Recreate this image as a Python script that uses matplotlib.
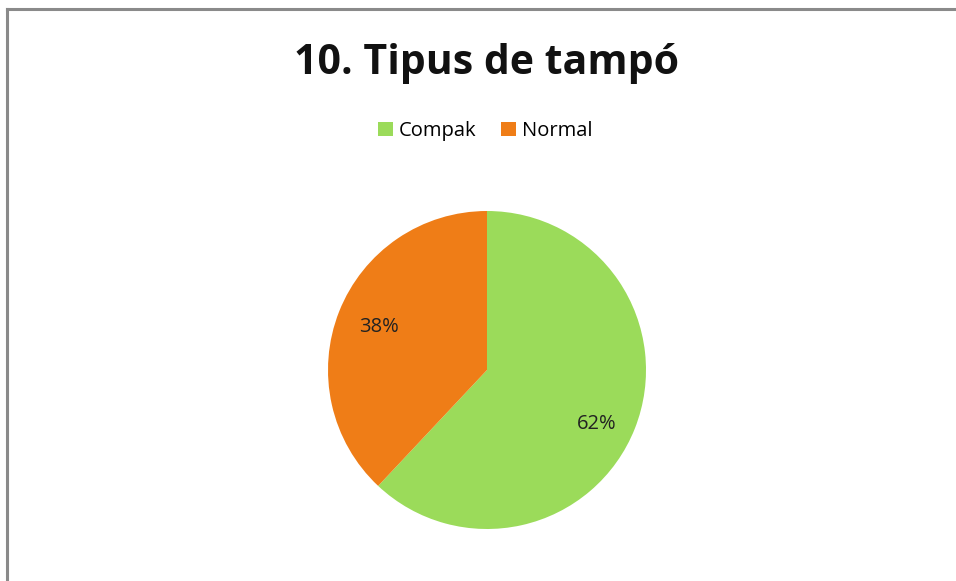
import matplotlib
matplotlib.use('Agg')
import matplotlib.pyplot as plt
from matplotlib.lines import Line2D
from matplotlib.patches import Patch

labels = ['Compak', 'Normal']
values = [62, 38]
colors = ['#9BDB5A', '#EF7D17']

W, H = 956, 581
fig = plt.figure(figsize=(W / 100, H / 100), dpi=100)
plt.rcParams['font.family'] = ['Open Sans', 'DejaVu Sans']

# pie centred at (487, 370) px, radius 159 px
cx, cy, r = 487, 370, 159
ax = fig.add_axes([(cx - r) / W, (H - cy - r) / H, 2 * r / W, 2 * r / H])
wedges, texts, autotexts = ax.pie(
    values, colors=colors, startangle=90, counterclock=False,
    autopct='%d%%', pctdistance=0.73,
    wedgeprops=dict(linewidth=0), textprops=dict(fontsize=14.5, color='#222222'))
# Excel "best fit" nudges the green label a little lower
x, y = autotexts[0].get_position()
autotexts[0].set_position((x + 0.01, y - 0.07))
ax.set_xlim(-1, 1)
ax.set_ylim(-1, 1)
ax.set_aspect('equal')
ax.axis('off')

fig.text(cx / W, 1 - 63 / H, '10. Tipus de tampó', ha='center', va='center',
         fontsize=29.5, fontweight='bold', color='#111111')

handles = [Patch(facecolor=c, edgecolor='none') for c in colors]
fig.legend(handles, labels, loc='center', bbox_to_anchor=(485 / W, 1 - 131 / H),
           ncol=2, frameon=False, fontsize=14.5, handlelength=0.75, handleheight=0.75,
           handletextpad=0.3, columnspacing=1.2)

# chart-area frame (left and top edges visible)
fig.add_artist(Line2D([7 / W, 7 / W], [0, 1 - 9 / H], color='#8a8a8a', lw=2.2,
                      transform=fig.transFigure))
fig.add_artist(Line2D([7 / W, 1], [1 - 9 / H, 1 - 9 / H], color='#8a8a8a', lw=2.2,
                      transform=fig.transFigure))

fig.savefig('out.png', dpi=100)
